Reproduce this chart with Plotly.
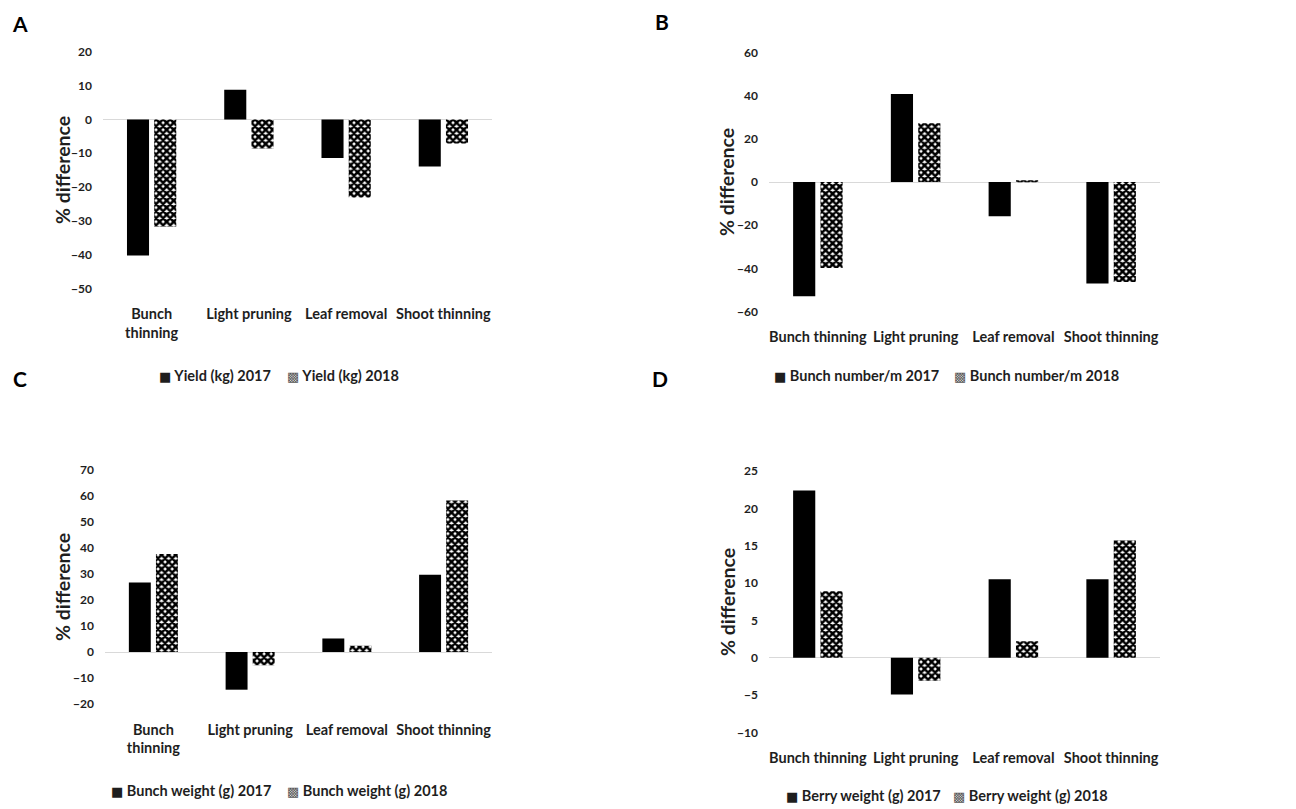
import plotly.graph_objects as go

# page has an 8px body margin, so the figure is offset by 8px
OFF = 8
W, H = 1296 - OFF, 809 - OFF

cats_wrap = ["Bunch<br>thinning", "Light pruning", "Leaf removal", "Shoot thinning"]
cats_line = ["Bunch thinning", "Light pruning", "Leaf removal", "Shoot thinning"]

yield_2017 = [-40.3, 8.8, -11.4, -13.9]
yield_2018 = [-31.7, -8.6, -23.1, -7.1]
bunchnum_2017 = [-52.9, 40.7, -15.9, -47.0]
bunchnum_2018 = [-39.8, 27.2, 0.8, -46.3]
bunchwt_2017 = [26.7, -14.5, 5.2, 29.7]
bunchwt_2018 = [37.7, -5.1, 2.4, 58.3]
berrywt_2017 = [22.4, -4.95, 10.5, 10.5]
berrywt_2018 = [8.9, -3.1, 2.2, 15.7]

names = [
    ("Yield (kg) 2017", "Yield (kg) 2018"),
    ("Bunch number/m 2017", "Bunch number/m 2018"),
    ("Bunch weight (g) 2017", "Bunch weight (g) 2018"),
    ("Berry weight (g) 2017", "Berry weight (g) 2018"),
]

FONT = "Lato"
TXT = "#1e1e1e"
fig = go.Figure()

panels = [
    (cats_wrap, yield_2017, yield_2018, "x", "y"),
    (cats_line, bunchnum_2017, bunchnum_2018, "x2", "y2"),
    (cats_wrap, bunchwt_2017, bunchwt_2018, "x3", "y3"),
    (cats_line, berrywt_2017, berrywt_2018, "x4", "y4"),
]

for (cats, v17, v18, xa, ya), (n17, n18) in zip(panels, names):
    fig.add_trace(go.Bar(x=cats, y=v17, name=n17, xaxis=xa, yaxis=ya,
                         marker=dict(color="black", line=dict(width=0))))
    fig.add_trace(go.Bar(x=cats, y=v18, name=n18, xaxis=xa, yaxis=ya,
                         marker=dict(color="white", line=dict(width=0),
                                     pattern=dict(shape="x", size=5, solidity=0.75,
                                                  fgcolor="black", bgcolor="white"))))

def px_x(p):
    return (p - OFF) / W

def px_y(p):
    return 1 - (p - OFF) / H

geo = {
    "1": dict(x=(103, 492), y=(52, 288.3), rng=[-50, 20], dt=10),
    "2": dict(x=(769, 1160), y=(52.3, 311.7), rng=[-60, 60], dt=20),
    "3": dict(x=(105, 492), y=(470, 704), rng=[-20, 70], dt=10),
    "4": dict(x=(769, 1160), y=(471, 732.3), rng=[-10, 25], dt=5),
}

tickfont = dict(family=FONT, size=12, color=TXT, weight="bold")
catfont = dict(family=FONT, size=14.5, color=TXT, weight="bold")

for k, g in geo.items():
    xs = "" if k == "1" else k
    fig.layout["xaxis" + xs] = dict(
        domain=[px_x(g["x"][0]), px_x(g["x"][1])], anchor="y" + xs,
        type="category", showgrid=False, showline=False, zeroline=False,
        ticks="", tickfont=catfont, ticklabelstandoff=15, fixedrange=True,
        automargin=False,
    )
    fig.layout["yaxis" + xs] = dict(
        domain=[px_y(g["y"][1]), px_y(g["y"][0])], anchor="x" + xs,
        range=g["rng"], dtick=g["dt"], showgrid=False, showline=False,
        zeroline=True, zerolinecolor="#d9d9d9", zerolinewidth=1,
        ticks="", tickfont=tickfont, ticklabelstandoff=10, fixedrange=True,
        automargin=False,
    )

annos = []
letters = [("A", 20, 23), ("B", 662, 21), ("C", 20, 378), ("D", 660, 378)]
for t, x, y in letters:
    annos.append(dict(text=t, x=px_x(x), y=px_y(y), xref="paper", yref="paper",
                      showarrow=False, xanchor="center", yanchor="middle",
                      font=dict(family=FONT, size=21, color="black", weight="bold")))

ytitles = [(62, 170), (727, 182), (62, 587), (727, 602)]
for x, y in ytitles:
    annos.append(dict(text="% difference", x=px_x(x), y=px_y(y), xref="paper", yref="paper",
                      showarrow=False, xanchor="center", yanchor="middle", textangle=-90,
                      font=dict(family=FONT, size=19.5, color=TXT, weight="bold")))

# legend entries: (left x of swatch 2017, left x of swatch 2018, y)
leg_pos = [(157, 285, 375), (772, 952, 375), (109, 285, 790), (784, 951, 795.7)]
legfont = dict(family=FONT, size=14.5, color=TXT, weight="bold")
for (n17, n18), (x1, x2, y) in zip(names, leg_pos):
    annos.append(dict(text='<span style="font-family:DejaVu Sans;font-size:13px">\u25A0</span> ' + n17,
                      x=px_x(x1), y=px_y(y), xref="paper", yref="paper", showarrow=False,
                      xanchor="left", yanchor="middle", font=legfont))
    annos.append(dict(text='<span style="font-family:DejaVu Sans;font-size:13px;fill:#555">\u25A9</span> ' + n18,
                      x=px_x(x2), y=px_y(y), xref="paper", yref="paper", showarrow=False,
                      xanchor="left", yanchor="middle", font=legfont))

fig.update_layout(
    template="none",
    width=W, height=H, margin=dict(l=0, r=0, t=0, b=0),
    paper_bgcolor="white", plot_bgcolor="white",
    barmode="group", bargap=0.44, bargroupgap=0.19,
    annotations=annos, showlegend=False,
)

fig.write_html("out.html")
